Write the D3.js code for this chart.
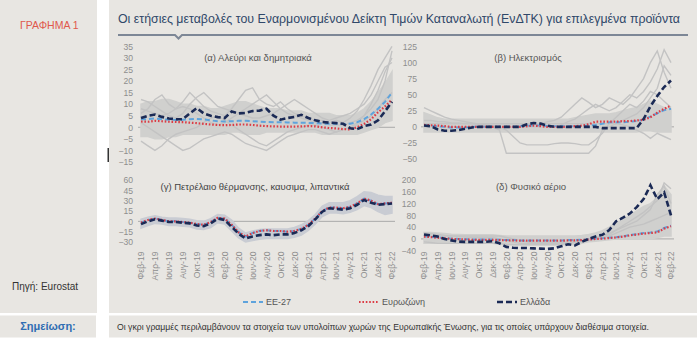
<!DOCTYPE html>
<html><head><meta charset="utf-8">
<script src="https://cdn.jsdelivr.net/npm/d3@7"></script>
<style>
html,body{margin:0;padding:0;background:#fff;}
svg{display:block;font-family:"Liberation Sans",Arial,sans-serif;}
</style></head>
<body><svg id="c" width="700" height="344"></svg>
<script>
// ---------- DATA ----------
const months = ["Φεβ-19","Μαρ-19","Απρ-19","Μαϊ-19","Ιουν-19","Ιουλ-19","Αυγ-19","Σεπ-19","Οκτ-19","Νοε-19","Δεκ-19",
"Ιαν-20","Φεβ-20","Μαρ-20","Απρ-20","Μαϊ-20","Ιουν-20","Ιουλ-20","Αυγ-20","Σεπ-20","Οκτ-20","Νοε-20","Δεκ-20",
"Ιαν-21","Φεβ-21","Μαρ-21","Απρ-21","Μαϊ-21","Ιουν-21","Ιουλ-21","Αυγ-21","Σεπ-21","Οκτ-21","Νοε-21","Δεκ-21",
"Ιαν-22","Φεβ-22"];
const seriesNames = ["ΕΕ-27","Ευρωζώνη","Ελλάδα"];

// (α) Αλεύρι και δημητριακά
const aTicks = [35,30,25,20,15,10,5,0,-5,-10,-15];
const aEU27 = [3.5,3.5,3.8,3.5,3.3,3.2,3.3,3.5,3.6,3.4,3,2.6,2.5,2.6,2.8,2.8,2.6,2.4,2.3,2.2,2.2,2.1,2,2,1.9,1.8,1.6,1.5,1.5,1.4,1.5,2.2,3.5,5.5,8,11,15];
const aEZ   = [2.5,2.4,2.8,2.6,2.4,2.3,2.2,2,1.8,1.5,1.2,1,0.9,1,1.2,1.2,1,0.7,0.5,0.4,0.3,0.3,0.3,0.4,0.5,0.4,0,-0.3,-0.5,-0.8,-0.9,0,1.5,3.5,6.5,9,12];
const aGR   = [4,5,5.5,4.5,3.8,3.5,3.5,6,8.3,6,5,4.4,4,6.8,6,6.2,7,7.2,8,5,3.3,4,4.5,5.4,4,3,2.3,2,1.8,1.5,-0.4,-0.8,0.5,1.2,3,6.9,11];
const aHigh = [10,11,11,12,12,11,10,10,9,9,8,8,9,10,11,11,10,9,8,8,8,7,7,7,6,6,6,6,5,5,5,6,8,11,15,19,24];
const aLow  = [-4,-4,-5,-5,-4,-4,-3,-3,-3,-3,-3,-3,-3,-2,-2,-3,-3,-3,-2,-2,-2,-2,-2,-2,-2,-2,-3,-3,-3,-3,-3,-3,-2,-1,0,2,3];
const aGray = [
 [6,8,12,14,10,8,11,15,12,9,7,6,5,8,12,16,17,12,10,9,11,8,6,5,4,3,3,2,3,2,4,7,12,18,25,30,35],
 [-6,-8,-10,-8,-5,-3,-2,-1,0,2,4,5,3,1,-1,-3,-5,-7,-8,-6,-4,-2,-1,0,1,1,0,-1,-2,-1,0,2,5,10,16,24,30],
 [12,11,9,7,5,4,6,10,13,15,12,9,8,7,6,5,4,4,5,6,8,10,12,10,8,6,4,3,4,5,6,8,10,14,20,26,28],
 [2,0,-2,-4,-6,-8,-10,-9,-7,-5,-4,-3,-2,-3,-5,-7,-8,-9,-10,-8,-6,-4,-3,-2,-1,-1,-2,-3,-2,-1,0,1,3,5,8,12,15],
 [8,7,6,5,6,8,9,8,6,4,2,1,2,4,6,8,10,12,14,11,8,6,5,4,3,2,2,1,1,1,2,3,5,8,12,20,33]
];

// (β) Ηλεκτρισμός
const bTicks = [125,100,75,50,25,0,-25,-50];
const bEU27 = [2,1.5,1,0,-1,-1,-1,0,0,0,0,0,0,0,1,1.5,2,2,1.5,1,1,1,1,1.5,2,3,5,7,7,7,8,9,11,16,21,26,28];
const bEZ   = [3,2.5,2,1,0,0,0,0,0,0,0,0,0,0,0,1,2,1,0,0,0,0,1,2,4,8,8,8,8,9,9,10,11,15,22,28,33];
const bGR   = [2,1,-4,-6,-6,-5,-3,-1,0,0,0,0,0,0,0,4,6,5,2,0,0,0,0,0,0,0,-2,-2,-2,-2,-2,-2,12,32,48,62,72];
const bHigh = [22,18,14,12,12,12,12,12,12,12,12,12,12,12,12,12,12,12,12,12,12,12,14,16,18,20,20,20,22,25,28,30,35,40,35,30,28];
const bLow  = [-8,-8,-8,-8,-8,-8,-8,-8,-8,-8,-8,-8,-8,-8,-8,-8,-8,-8,-8,-8,-8,-8,-8,-8,-8,-8,-8,-8,-8,-8,-8,-8,-6,-6,-8,-8,-8];
const bGray = [
 [30,25,20,15,12,10,8,6,4,2,0,-5,-41,-41,-41,-41,-41,-41,-41,-41,-41,-41,-41,-41,-41,-30,-5,0,5,10,15,20,30,45,60,95,80],
 [10,10,8,8,6,6,5,5,4,3,2,0,-5,-15,-25,-28,-28,-28,-28,-26,-25,-25,-26,-28,-28,-20,-10,5,15,25,35,30,40,55,50,40,30],
 [5,5,5,5,5,5,5,5,5,5,5,5,5,5,5,5,5,5,8,10,15,25,35,45,38,30,35,45,40,35,45,60,75,100,118,85,60],
 [0,0,0,0,0,0,0,0,0,0,0,0,0,0,0,0,0,0,0,0,3,8,12,20,28,35,30,25,30,40,50,45,55,70,90,120,100],
 [5,5,5,5,5,5,5,5,5,5,5,5,5,5,5,5,5,5,5,5,5,5,5,5,5,5,5,5,5,3,0,-5,-10,-18,-10,-15,-20]
];

// (γ) Πετρέλαιο θέρμανσης, καύσιμα, λιπαντικά
const cTicks = [60,45,30,15,0,-15,-30];
const cEU27 = [-2,2,4,2,0,0,-1,-2,-4,-5,-1,5,4,-5,-16,-22,-17,-14,-13,-14,-14,-15,-14,-11,-5,4,15,20,20,19,21,26,33,30,25,26,27];
const cEZ   = [-2,2,4,2,0,0,-1,-2,-4,-5,-1,5,4,-5,-16,-22,-17,-14,-13,-14,-14,-15,-14,-11,-5,4,15,20,20,19,21,26,33,30,25,26,27];
const cGR   = [-4,0,3,1,-1,-1,-2,-3,-6,-7,-3,4,2,-8,-18,-25,-22,-20,-19,-20,-19,-19,-17,-13,-7,3,14,19,18,17,19,24,31,27,24,25,26];
const cHigh = [3,6,8,6,5,5,4,3,1,0,4,10,9,2,-10,-17,-14,-12,-11,-11,-11,-11,-9,-5,1,10,22,27,27,27,30,36,43,42,38,36,36];
const cLow  = [-10,-6,-3,-4,-6,-6,-7,-8,-11,-12,-9,-2,-4,-14,-24,-30,-28,-26,-25,-25,-25,-25,-23,-20,-13,-4,7,12,12,11,13,17,23,20,14,10,12];
const cGray = [];

// (δ) Φυσικό αέριο
const dTicks = [200,160,120,80,40,0,-40];
const dEU27 = [9,7,5,3,1,0,-1,-2,-2,-2,-2,-3,-4,-4,-5,-5,-5,-5,-5,-5,-5,-4,-4,-3,-1,1,2,4,6,9,13,16,20,22,25,37,45];
const dEZ   = [8,6,4,2,0,-1,-2,-3,-3,-3,-3,-4,-5,-5,-6,-6,-6,-6,-6,-6,-6,-5,-5,-4,-2,0,1,3,5,8,12,15,18,20,22,35,43];
const dGR   = [15,12,8,0,-5,-9,-10,-10,-10,-10,-8,-15,-27,-30,-31,-31,-32,-33,-34,-32,-25,-18,-22,-10,0,8,14,30,60,72,86,108,135,182,135,158,80];
const dHigh = [22,22,20,18,16,15,14,14,14,14,14,12,10,10,10,10,10,10,10,10,10,10,10,12,15,20,28,40,55,65,80,95,110,120,140,180,150];
const dLow  = [-15,-15,-15,-15,-15,-15,-15,-15,-15,-15,-15,-18,-20,-20,-20,-20,-20,-20,-20,-20,-20,-20,-20,-15,-10,-8,-5,-3,0,0,0,0,0,0,5,10,10];
const dGray = [
 [20,18,15,12,10,8,6,5,5,5,5,0,-5,-10,-15,-15,-15,-15,-15,-15,-15,-12,-10,-8,-5,0,5,15,30,45,60,75,90,110,130,190,170],
 [10,10,10,10,10,10,10,10,10,10,10,10,5,0,-5,-10,-12,-12,-12,-12,-12,-10,-8,-5,0,5,10,20,30,40,50,60,80,100,150,180,120],
 [-10,-12,-15,-15,-15,-15,-15,-15,-15,-15,-15,-15,-18,-20,-20,-20,-20,-20,-20,-20,-18,-15,-12,-10,-5,0,5,10,20,30,40,45,50,60,70,80,90]
];

// ---------- LAYOUT / STYLE ----------
const BG = "#e8e6e2";
const svg = d3.select("#c");
svg.append("rect").attr("x",0).attr("y",0).attr("width",97).attr("height",313).attr("fill",BG);
svg.append("rect").attr("x",109).attr("y",0).attr("width",588).attr("height",313).attr("fill",BG);
svg.append("rect").attr("x",0).attr("y",315.5).attr("width",96).attr("height",22).attr("fill",BG);
svg.append("rect").attr("x",109).attr("y",315.5).attr("width",588).attr("height",22).attr("fill",BG);

svg.append("text").attr("x",20).attr("y",29).attr("fill","#e0584c").attr("font-size",10.5).text("ΓΡΑΦΗΜΑ 1");
svg.append("text").attr("x",12).attr("y",290).attr("fill","#333").attr("font-size",10).text("Πηγή: Eurostat");
svg.append("text").attr("x",48).attr("y",330).attr("fill","#2f6db3").attr("font-size",11).attr("font-weight","bold")
  .attr("text-anchor","middle").text("Σημείωση:");
svg.append("text").attr("x",117).attr("y",329.5).attr("fill","#333").attr("font-size",8.6)
  .attr("textLength",532).attr("lengthAdjust","spacingAndGlyphs")
  .text("Οι γκρι γραμμές περιλαμβάνουν τα στοιχεία των υπολοίπων χωρών της Ευρωπαϊκής Ένωσης, για τις οποίες υπάρχουν διαθέσιμα στοιχεία.");
svg.append("rect").attr("x",107.5).attr("y",148).attr("width",1.5).attr("height",14).attr("fill","#333");

svg.append("text").attr("x",118).attr("y",23).attr("fill","#304869").attr("font-size",12.8)
  .attr("textLength",562).attr("lengthAdjust","spacingAndGlyphs")
  .text("Οι ετήσιες μεταβολές του Εναρμονισμένου Δείκτη Τιμών Καταναλωτή (ΕνΔΤΚ) για επιλεγμένα προϊόντα");
svg.append("path").attr("d","M118,35 L175,35 L178.5,38.5 L182,35 L688,35").attr("fill","none")
  .attr("stroke","#7d8796").attr("stroke-width",2);

const panels = [
 {title:"(α) Αλεύρι και δημητριακά", tx:258, ty:61, x0:141, x1:392, yT:46.3, yB:162, ticks:aTicks, lx:133,
  eu:aEU27, ez:aEZ, gr:aGR, hi:aHigh, lo:aLow, gray:aGray, xl:false, band:"#d0d0ce", tc:"#555"},
 {title:"(β) Ηλεκτρισμός", tx:528, ty:61, x0:424, x1:671, yT:46.5, yB:159, ticks:bTicks, lx:417,
  eu:bEU27, ez:bEZ, gr:bGR, hi:bHigh, lo:bLow, gray:bGray, xl:false, band:"#d0d0ce", tc:"#555"},
 {title:"(γ) Πετρέλαιο θέρμανσης, καυσιμα, λιπαντικά", tx:255, ty:190, x0:141, x1:392, yT:180, yB:242, ticks:cTicks, lx:133,
  eu:cEU27, ez:cEZ, gr:cGR, hi:cHigh, lo:cLow, gray:cGray, xl:true, band:"#c9ccd3", tc:"#444"},
 {title:"(δ) Φυσικό αέριο", tx:531, ty:190, x0:424, x1:671, yT:180, yB:250.7, ticks:dTicks, lx:416,
  eu:dEU27, ez:dEZ, gr:dGR, hi:dHigh, lo:dLow, gray:dGray, xl:true, band:"#d0d0ce", tc:"#555"}
];

const styles = [
 {key:"eu", color:"#5ea3dc", w:2, dash:"5,3"},
 {key:"ez", color:"#dc3c45", w:2.2, dash:"1.6,1.8"},
 {key:"gr", color:"#1b2a55", w:2.6, dash:"6,3"}
];

panels.forEach(p=>{
  const g = svg.append("g");
  const x = d3.scalePoint().domain(months).range([p.x0,p.x1]);
  const y = d3.scaleLinear().domain([p.ticks[p.ticks.length-1], p.ticks[0]]).range([p.yB,p.yT]);
  const ya = d3.axisLeft(y).tickValues(p.ticks).tickSize(0).tickPadding(0);
  const yg = g.append("g").attr("transform",`translate(${p.lx},0)`).call(ya);
  yg.select(".domain").remove();
  yg.selectAll("text").attr("fill","#8e8e8e").attr("font-size",8.6).attr("font-family","Liberation Sans, Arial");
  if(p.xl){
    const xa = d3.axisBottom(x).tickValues(months.filter((m,i)=>i%2===0)).tickSize(0).tickPadding(0);
    const xg = g.append("g").attr("transform",`translate(0,251.5)`).call(xa);
    xg.select(".domain").remove();
    xg.selectAll("text").attr("fill","#8e8e8e").attr("font-size",8.6).attr("font-family","Liberation Sans, Arial")
      .attr("transform","rotate(-90)").attr("text-anchor","end").attr("dy","0.32em").attr("x",0).attr("y",0);
  }
  g.append("line").attr("x1",p.x0-3).attr("x2",p.x1+3).attr("y1",y(0)).attr("y2",y(0))
    .attr("stroke","#a9a9a9").attr("stroke-width",1);
  const area = d3.area().x((d,i)=>x(months[i])).y0((d,i)=>y(p.lo[i])).y1(d=>y(d));
  g.append("path").attr("d",area(p.hi)).attr("fill",p.band).attr("stroke",p.band).attr("stroke-width",1.5);
  const line = d3.line().x((d,i)=>x(months[i])).y(d=>y(d));
  p.gray.forEach(s=>{
    g.append("path").attr("d",line(s)).attr("fill","none").attr("stroke","#c3c3c3").attr("stroke-width",1.4);
  });
  styles.forEach(st=>{
    g.append("path").attr("d",line(p[st.key])).attr("fill","none").attr("stroke",st.color)
      .attr("stroke-width",st.w).attr("stroke-dasharray",st.dash);
  });
  g.append("text").attr("x",p.tx).attr("y",p.ty).attr("text-anchor","middle").attr("fill",p.tc)
    .attr("font-size",9.5).text(p.title);
});

const legX = [243,359,497];
styles.forEach((st,i)=>{
  const lg = svg.append("g");
  lg.append("line").attr("x1",legX[i]).attr("x2",legX[i]+20).attr("y1",302).attr("y2",302)
    .attr("stroke",st.color).attr("stroke-width",st.w).attr("stroke-dasharray",st.dash);
  lg.append("text").attr("x",legX[i]+23).attr("y",305).attr("fill","#555").attr("font-size",9).text(seriesNames[i]);
});
</script></body></html>
